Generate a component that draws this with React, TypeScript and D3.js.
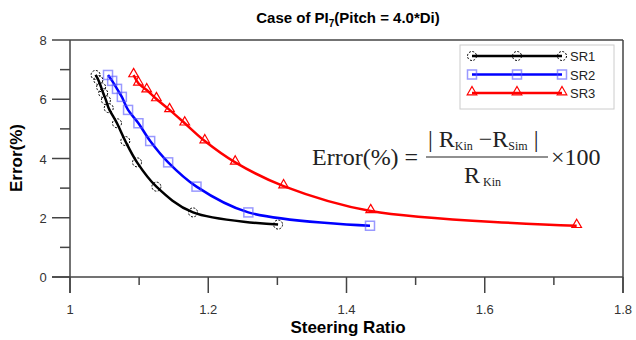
import React, { useEffect, useRef } from "react";
import * as d3 from "d3";

// values
const sr1X = [1.037, 1.041, 1.045, 1.048, 1.052, 1.056, 1.068, 1.080, 1.097, 1.125, 1.178, 1.301];
const sr1Y = [6.82, 6.65, 6.41, 6.21, 5.97, 5.70, 5.19, 4.59, 3.87, 3.05, 2.18, 1.77];

const sr2X = [1.055, 1.061, 1.068, 1.075, 1.084, 1.099, 1.116, 1.142, 1.183, 1.258, 1.434];
const sr2Y = [6.82, 6.62, 6.35, 6.08, 5.64, 5.19, 4.59, 3.87, 3.05, 2.18, 1.73];

const sr3X = [1.092, 1.099, 1.111, 1.125, 1.144, 1.166, 1.195, 1.239, 1.309, 1.435, 1.733];
const sr3Y = [6.82, 6.54, 6.31, 6.01, 5.64, 5.19, 4.59, 3.87, 3.07, 2.23, 1.73];

const seriesNames = ["SR1", "SR2", "SR3"];
const seriesColors = ["#000000", "#0000ff", "#ff0000"];

const xMajor = [1, 1.2, 1.4, 1.6, 1.8];
const xMinor = [1.1, 1.3, 1.5, 1.7];
const yMajor = [0, 2, 4, 6, 8];
const yMinor = [1, 3, 5, 7];

const W = 636;
const H = 340;
const M = { top: 40, right: 13, bottom: 63, left: 70 };

function App() {
  const ref = useRef<SVGSVGElement>(null);

  useEffect(() => {
    const svg = d3.select(ref.current);
    svg.selectAll("*").remove();

    const x = d3.scaleLinear().domain([1, 1.8]).range([M.left, W - M.right]);
    const y = d3.scaleLinear().domain([0, 8]).range([H - M.bottom, M.top]);
    const axisColor = "#444";
    const font = "Arial, 'Liberation Sans', sans-serif";

    const g = svg.append("g");

    // frame
    g.append("line").attr("x1", x(1)).attr("x2", x(1.8)).attr("y1", y(8)).attr("y2", y(8))
      .attr("stroke", axisColor).attr("stroke-width", 1.5);
    g.append("line").attr("x1", x(1.8)).attr("x2", x(1.8)).attr("y1", y(8)).attr("y2", y(0) + 16)
      .attr("stroke", axisColor).attr("stroke-width", 1.5);
    g.append("line").attr("x1", x(1)).attr("x2", x(1)).attr("y1", y(8)).attr("y2", y(0) + 16)
      .attr("stroke", axisColor).attr("stroke-width", 1.5);
    g.append("line").attr("x1", x(1) - 18).attr("x2", x(1.8)).attr("y1", y(0)).attr("y2", y(0))
      .attr("stroke", axisColor).attr("stroke-width", 1.5);

    // y ticks
    g.selectAll(".ymaj").data(yMajor).enter().append("line")
      .attr("x1", x(1) - 18).attr("x2", x(1)).attr("y1", d => y(d)).attr("y2", d => y(d))
      .attr("stroke", axisColor).attr("stroke-width", 1.5);
    g.selectAll(".ymin").data(yMinor).enter().append("line")
      .attr("x1", x(1) - 10).attr("x2", x(1)).attr("y1", d => y(d)).attr("y2", d => y(d))
      .attr("stroke", axisColor).attr("stroke-width", 1.5);
    g.selectAll(".ylab").data(yMajor).enter().append("text")
      .attr("x", x(1) - 27).attr("y", d => y(d) + 5).attr("text-anchor", "middle")
      .attr("font-family", font).attr("font-size", 13).attr("fill", "#333").text(d => d);

    // x ticks
    g.selectAll(".xmaj").data(xMajor).enter().append("line")
      .attr("x1", d => x(d)).attr("x2", d => x(d)).attr("y1", y(0)).attr("y2", y(0) + 16)
      .attr("stroke", axisColor).attr("stroke-width", 1.5);
    g.selectAll(".xmin").data(xMinor).enter().append("line")
      .attr("x1", d => x(d)).attr("x2", d => x(d)).attr("y1", y(0)).attr("y2", y(0) + 8)
      .attr("stroke", axisColor).attr("stroke-width", 1.5);
    g.selectAll(".xlab").data(xMajor).enter().append("text")
      .attr("x", d => x(d)).attr("y", y(0) + 37).attr("text-anchor", "middle")
      .attr("font-family", font).attr("font-size", 13).attr("fill", "#333").text(d => d);

    // titles
    const title = g.append("text").attr("x", 348).attr("y", 23).attr("text-anchor", "middle")
      .attr("font-family", font).attr("font-size", 15).attr("font-weight", "bold");
    title.append("tspan").text("Case of PI");
    title.append("tspan").attr("font-size", 10).attr("dy", 4).text("7");
    title.append("tspan").attr("dy", -4).text("(Pitch = 4.0*Di)");

    g.append("text").attr("x", 348).attr("y", 333).attr("text-anchor", "middle")
      .attr("font-family", font).attr("font-size", 17).attr("font-weight", "bold")
      .text("Steering Ratio");
    g.append("text").attr("transform", "translate(22,158) rotate(-90)").attr("text-anchor", "middle")
      .attr("font-family", font).attr("font-size", 17).attr("font-weight", "bold")
      .text("Error(%)");

    // series
    const series = [
      sr1X.map((v, i) => [v, sr1Y[i]] as [number, number]),
      sr2X.map((v, i) => [v, sr2Y[i]] as [number, number]),
      sr3X.map((v, i) => [v, sr3Y[i]] as [number, number]),
    ];
    const line = d3.line<[number, number]>().x(d => x(d[0])).y(d => y(d[1])).curve(d3.curveCatmullRom);

    function marker(sel: any, k: number, cx: number, cy: number) {
      if (k === 0) {
        sel.append("circle").attr("cx", cx).attr("cy", cy).attr("r", 4.5)
          .attr("fill", "none").attr("stroke", "#000").attr("stroke-width", 1).attr("stroke-dasharray", "2,1.5");
      } else if (k === 1) {
        sel.append("rect").attr("x", cx - 4.5).attr("y", cy - 4.5).attr("width", 9).attr("height", 9)
          .attr("fill", "none").attr("stroke", "#5555ff").attr("stroke-opacity", 0.6).attr("stroke-width", 1.5);
      } else {
        const s = d3.symbol().type(d3.symbolTriangle).size(40);
        sel.append("path").attr("transform", `translate(${cx},${cy - 1})`).attr("d", s()!)
          .attr("fill", "none").attr("stroke", "#ff0000").attr("stroke-width", 1.2);
      }
    }

    series.forEach((pts, k) => {
      g.append("path").attr("d", line(pts)!).attr("fill", "none")
        .attr("stroke", seriesColors[k]).attr("stroke-width", 2.5);
      pts.forEach(p => marker(g, k, x(p[0]), y(p[1])));
    });

    // formula
    const ff = "'Liberation Serif', 'Times New Roman', serif";
    const f = g.append("g").attr("font-family", ff).attr("fill", "#222");
    f.append("text").attr("x", 312).attr("y", 165).attr("font-size", 24).text("Error(%) =");
    const num = f.append("text").attr("x", 428).attr("y", 147).attr("font-size", 24);
    num.append("tspan").text("| R");
    num.append("tspan").attr("font-size", 12).attr("dy", 3).text("Kin");
    num.append("tspan").attr("dy", -3).text(" \u2212R");
    num.append("tspan").attr("font-size", 12).attr("dy", 3).text("Sim");
    num.append("tspan").attr("dy", -3).text(" |");
    f.append("line").attr("x1", 426).attr("x2", 548).attr("y1", 157).attr("y2", 157)
      .attr("stroke", "#222").attr("stroke-width", 1.2);
    const den = f.append("text").attr("x", 464).attr("y", 183).attr("font-size", 24);
    den.append("tspan").text("R");
    den.append("tspan").attr("font-size", 12).attr("dy", 3).text(" Kin");
    f.append("text").attr("x", 551).attr("y", 165).attr("font-size", 24).text("\u00d7100");

    // legend
    const lg = g.append("g");
    lg.append("rect").attr("x", 460).attr("y", 45).attr("width", 154).attr("height", 64)
      .attr("fill", "#fff").attr("stroke", "#ccc").attr("stroke-width", 1);
    seriesNames.forEach((name, k) => {
      const ly = 56 + k * 18.5;
      lg.append("line").attr("x1", 472).attr("x2", 562).attr("y1", ly).attr("y2", ly)
        .attr("stroke", seriesColors[k]).attr("stroke-width", 2.5);
      [472, 517, 562].forEach(mx => marker(lg, k, mx, ly));
      lg.append("text").attr("x", 570).attr("y", ly + 5).attr("font-family", font)
        .attr("font-size", 13).attr("fill", "#222").text(name);
    });
  }, []);

  return (
    <svg ref={ref} width={W} height={H} style={{ display: "block", position: "absolute", left: 0, top: 0, background: "#fff" }} />
  );
}

export default App;
